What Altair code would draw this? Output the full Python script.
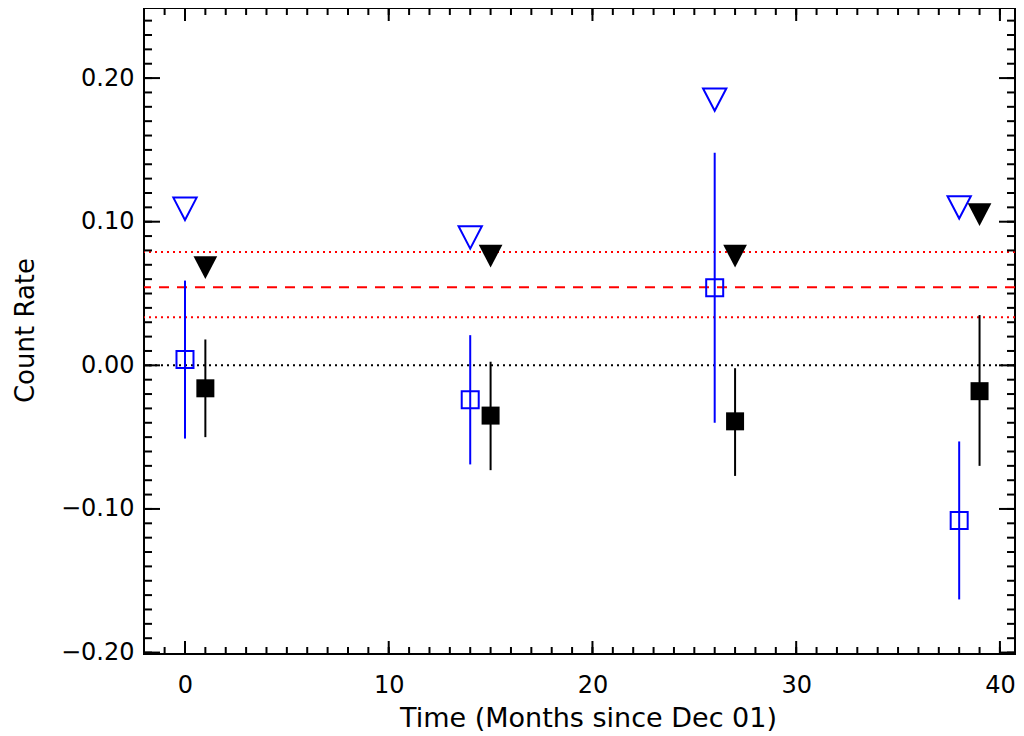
import altair as alt
import pandas as pd

# ---- data ----
blue_t = [0, 14, 26, 38]
blue_rate = [0.004, -0.024, 0.054, -0.108]
blue_lo = [-0.051, -0.069, -0.040, -0.163]
blue_hi = [0.059, 0.021, 0.148, -0.053]
blue_limit = [0.109, 0.089, 0.185, 0.110]

black_t = [1, 15, 27, 39]
black_rate = [-0.016, -0.035, -0.039, -0.018]
black_lo = [-0.050, -0.073, -0.077, -0.070]
black_hi = [0.018, 0.0025, -0.002, 0.035]
black_limit = [0.068, 0.076, 0.076, 0.105]

mean_level = [0.0543]
band_levels = [0.0334, 0.0789]
zero_level = [0.0]

x_major = [0, 10, 20, 30, 40]
x_minor = list(range(-1, 41))
y_major = [-0.2, -0.1, 0.0, 0.1, 0.2]
y_minor = [round(-0.20 + 0.01 * i, 2) for i in range(45)]

W, H = 871, 646
FONT = "DejaVu Sans"

blue = pd.DataFrame({"x": blue_t, "y": blue_rate, "lo": blue_lo, "hi": blue_hi, "lim": blue_limit})
black = pd.DataFrame({"x": black_t, "y": black_rate, "lo": black_lo, "hi": black_hi, "lim": black_limit})

xs = alt.Scale(domain=[-2.012, 40.74], nice=False, zero=False)
ys = alt.Scale(domain=[-0.201, 0.2488], nice=False, zero=False)

xaxis = alt.Axis(values=x_major, format="d", ticks=False, domain=False, grid=False,
                 labelFont=FONT, labelFontSize=24, labelColor="black",
                 labelBaseline="alphabetic", labelPadding=38,
                 title="Time (Months since Dec 01)", titleFont=FONT, titleFontSize=27,
                 titleFontWeight="normal", titleColor="black",
                 titleBaseline="alphabetic", titleY=72, titleX=444)
yaxis = alt.Axis(values=y_major, format=".2f", ticks=False, domain=False, grid=False,
                 labelFont=FONT, labelFontSize=24, labelColor="black",
                 labelPadding=10,
                 title="Count Rate", titleFont=FONT, titleFontSize=26,
                 titleFontWeight="normal", titleColor="black",
                 titleAngle=-90, titleAlign="center", titleBaseline="alphabetic",
                 titleX=-111, titleY=322)


def X(f):
    return alt.X(f, type="quantitative", scale=xs, axis=xaxis)


def Y(f):
    return alt.Y(f, type="quantitative", scale=ys, axis=yaxis)


BLUE = "#0000ff"
TRI = "M-1,-0.96L1,-0.96L0,0.96Z"

layers = []

# horizontal reference lines
layers.append(alt.Chart(pd.DataFrame({"y": band_levels})).mark_rule(
    color="#ff0000", strokeWidth=2, strokeDash=[2, 4]).encode(y=Y("y")))
layers.append(alt.Chart(pd.DataFrame({"y": mean_level})).mark_rule(
    color="#ff0000", strokeWidth=2, strokeDash=[10, 8]).encode(y=Y("y")))
layers.append(alt.Chart(pd.DataFrame({"y": zero_level})).mark_rule(
    color="black", strokeWidth=2, strokeDash=[2, 4]).encode(y=Y("y")))

# error bars
layers.append(alt.Chart(blue).mark_rule(color=BLUE, strokeWidth=2).encode(
    x=X("x"), y=Y("lo"), y2="hi"))
layers.append(alt.Chart(black).mark_rule(color="black", strokeWidth=2).encode(
    x=X("x"), y=Y("lo"), y2="hi"))

# squares
layers.append(alt.Chart(blue).mark_point(shape="square", filled=False, size=289,
                                         strokeWidth=2, color=BLUE, opacity=1).encode(
    x=X("x"), y=Y("y")))
layers.append(alt.Chart(black).mark_point(shape="square", filled=True, size=324,
                                          color="black", opacity=1).encode(
    x=X("x"), y=Y("y")))

# upper-limit triangles
layers.append(alt.Chart(blue).mark_point(shape=TRI, filled=False, size=543,
                                         strokeWidth=2, color=BLUE, opacity=1).encode(
    x=X("x"), y=Y("lim")))
layers.append(alt.Chart(black).mark_point(shape=TRI, filled=True, size=562,
                                          color="black", opacity=1).encode(
    x=X("x"), y=Y("lim")))

# inward tick marks (IDL style) on all four sides
ymaj = pd.DataFrame({"v": y_major})
ymin = pd.DataFrame({"v": y_minor})
xmaj = pd.DataFrame({"v": x_major})
xmin = pd.DataFrame({"v": x_minor})
tk = dict(color="black", strokeWidth=2)
layers.append(alt.Chart(ymaj).mark_rule(**tk).encode(y=Y("v"), x=alt.value(0), x2=alt.value(16)))
layers.append(alt.Chart(ymin).mark_rule(**tk).encode(y=Y("v"), x=alt.value(0), x2=alt.value(8)))
layers.append(alt.Chart(ymaj).mark_rule(**tk).encode(y=Y("v"), x=alt.value(W), x2=alt.value(W - 16)))
layers.append(alt.Chart(ymin).mark_rule(**tk).encode(y=Y("v"), x=alt.value(W), x2=alt.value(W - 8)))
layers.append(alt.Chart(xmaj).mark_rule(**tk).encode(x=X("v"), y=alt.value(H), y2=alt.value(H - 13)))
layers.append(alt.Chart(xmin).mark_rule(**tk).encode(x=X("v"), y=alt.value(H), y2=alt.value(H - 7)))
layers.append(alt.Chart(xmaj).mark_rule(**tk).encode(x=X("v"), y=alt.value(0), y2=alt.value(13)))
layers.append(alt.Chart(xmin).mark_rule(**tk).encode(x=X("v"), y=alt.value(0), y2=alt.value(7)))

chart = alt.layer(*layers).properties(
    width=W, height=H,
    autosize=alt.AutoSizeParams(type="none"),
    padding={"left": 136, "top": 0, "right": 1, "bottom": 78},
    background="white",
).configure_view(stroke="black", strokeWidth=2)

chart.save("out.html", embed_options={"renderer": "svg", "actions": False})
